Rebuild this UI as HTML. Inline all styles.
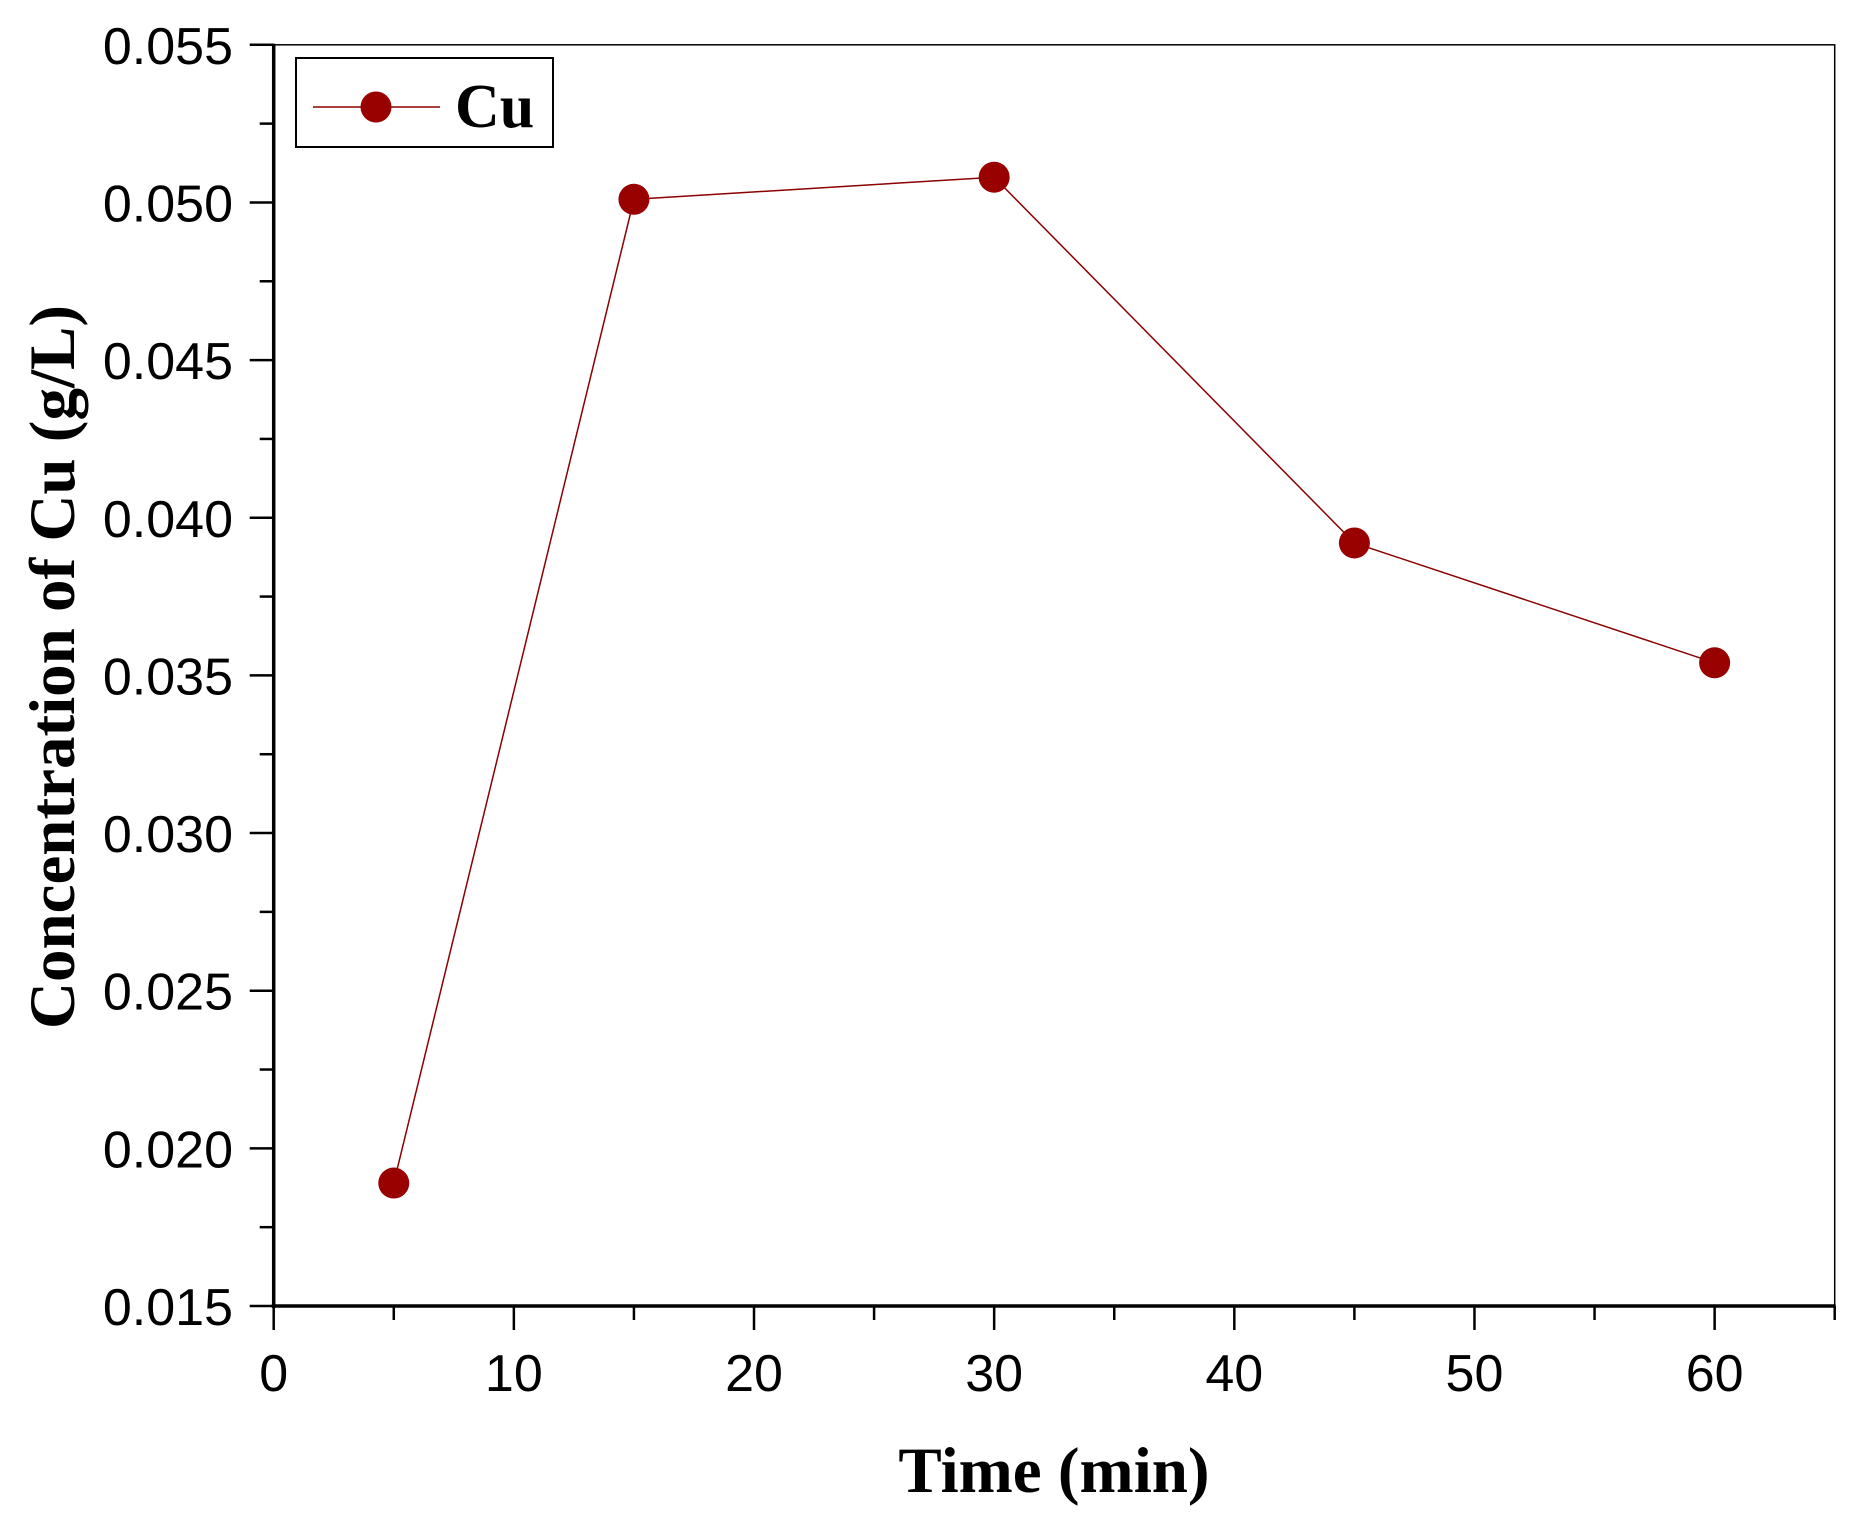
<!DOCTYPE html>
<html><head><meta charset="utf-8"><style>body{margin:0;background:#fff}svg{display:block}</style></head>
<body>
<svg id="chart" width="1850" height="1522" xmlns="http://www.w3.org/2000/svg">
<g id="axes"></g>
<text transform="translate(74,667) rotate(-90)" text-anchor="middle" font-family="Liberation Serif, serif" font-weight="bold" font-size="65">Concentration of Cu (g/L)</text>
<text x="1054" y="1492" text-anchor="middle" font-family="Liberation Serif, serif" font-weight="bold" font-size="65">Time (min)</text>
<g>
<rect x="296" y="58" width="257" height="89" fill="#fff" stroke="#000" stroke-width="2"/>
<line x1="313" y1="107" x2="440" y2="107" stroke="#8b0000" stroke-width="1.5"/>
<circle cx="376" cy="107" r="15.5" fill="#990000"/>
<text x="455" y="127" font-family="Liberation Serif, serif" font-weight="bold" font-size="62">Cu</text>
</g>
</svg>
<script>
const xValues=[5,15,30,45,60];
const cuValues=[0.0189,0.0501,0.0508,0.0392,0.0354];
const xTicks=[0,10,20,30,40,50,60];
const yTicks=[0.015,0.020,0.025,0.030,0.035,0.040,0.045,0.050,0.055];
const L=273.7,R=1834.7,T=44.8,B=1306;
const xs=v=>L+(v/65)*(R-L);
const ys=v=>B-(v-0.015)/0.04*(B-T);
const NS='http://www.w3.org/2000/svg';
const g=document.getElementById('axes');
function mk(t,a){const e=document.createElementNS(NS,t);for(const k in a)e.setAttribute(k,a[k]);g.appendChild(e);return e;}
let e;
e=mk('rect',{x:L,y:T,width:R-L,height:B-T,fill:'none',stroke:'#000','stroke-width':1.5});


e=mk('line',{x1:L,y1:T-1,x2:L,y2:B+2,stroke:'#000','stroke-width':3.5});


e=mk('line',{x1:L-2,y1:B,x2:R+1,y2:B,stroke:'#000','stroke-width':3.5});


for(let v=0;v<=65;v+=5){const maj=v%10===0;e=mk('line',{x1:xs(v),y1:B,x2:xs(v),y2:B+(maj?24:14),stroke:'#000','stroke-width':2.5});

}
xTicks.forEach(v=>{e=mk('text',{x:xs(v),y:1391,'text-anchor':'middle','font-family':'Liberation Sans, sans-serif','font-size':52});e.textContent=v;

});
for(let i=0;i<=16;i++){const v=0.015+i*0.0025;const maj=i%2===0;e=mk('line',{x1:L,y1:ys(v),x2:L-(maj?24:14),y2:ys(v),stroke:'#000','stroke-width':2.5});

}
yTicks.forEach(v=>{e=mk('text',{x:233,y:ys(v)+19,'text-anchor':'end','font-family':'Liberation Sans, sans-serif','font-size':52});e.textContent=v.toFixed(3);

});
e=mk('polyline',{points:xValues.map((x,i)=>xs(x)+','+ys(cuValues[i])).join(' '),fill:'none',stroke:'#8b0000','stroke-width':1.5});


xValues.forEach((x,i)=>{e=mk('circle',{cx:xs(x),cy:ys(cuValues[i]),r:15.5,fill:'#990000'});

});
</script>
</body></html>
